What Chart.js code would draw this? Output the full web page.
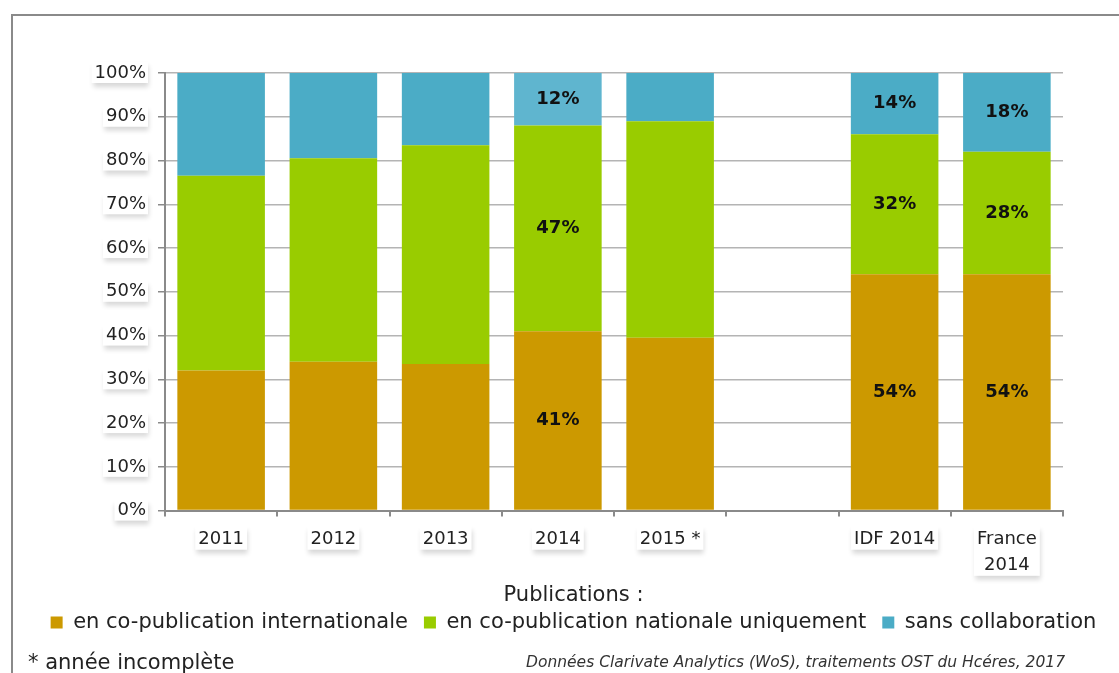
<!DOCTYPE html>
<html>
<head>
<meta charset="utf-8">
<script src="https://cdn.jsdelivr.net/npm/chart.js@4/dist/chart.umd.min.js"></script>
<style>
  html, body { margin: 0; padding: 0; background: #fff; }
  #wrap { position: relative; width: 1119px; height: 673px; overflow: hidden; }
  #frame { position: absolute; left: 11px; top: 14px; width: 1200px; height: 800px;
           border-left: 2px solid #8a8a8a; border-top: 2px solid #8a8a8a; }
  canvas { position: absolute; left: 0; top: 0; }
  .note { position: absolute; top: 650px; font-family: "DejaVu Sans", sans-serif; font-size: 21px; color: #222; }
  #note1 { left: 28px; }
  #note2 { right: 54px; font-style: italic; font-size: 15.5px; top: 653px; color: #333; }
</style>
</head>
<body>
<div id="wrap">
  <div id="frame"></div>
  <canvas id="chart" width="1119" height="673"></canvas>
  <div class="note" id="note1">* année incomplète</div>
  <div class="note" id="note2">Données Clarivate Analytics (WoS), traitements OST du Hcéres, 2017</div>
</div>
<script>
var categories = ["2011", "2012", "2013", "2014", "2015 *", "", "IDF 2014", ["France", "2014"]];
var international = [32, 34, 33.5, 41, 39.5, null, 54, 54];
var national = [44.5, 46.5, 50, 47, 49.5, null, 32, 28];
var sansCollab = [23.5, 19.5, 16.5, 12, 11, null, 14, 18];
var labelled = [3, 6, 7];
var yTicks = [0, 10, 20, 30, 40, 50, 60, 70, 80, 90, 100];

var FONT = "DejaVu Sans";
var TICK_SIZE = 18;

var sansColors = sansCollab.map(function (v, i) {
  return i === 3 ? "#5fb5cf" : "#4bacc6";
});

// percentages written inside the segments of a few bars
var segmentLabels = {
  id: "segmentLabels",
  afterDatasetsDraw: function (chart) {
    var ctx = chart.ctx;
    ctx.save();
    ctx.font = "bold 18px '" + FONT + "'";
    ctx.fillStyle = "#111";
    ctx.textAlign = "center";
    ctx.textBaseline = "middle";
    chart.data.datasets.forEach(function (ds, di) {
      var meta = chart.getDatasetMeta(di);
      labelled.forEach(function (i) {
        var bar = meta.data[i];
        if (!bar || ds.data[i] == null) return;
        var p = bar.getProps(["x", "y", "base"], true);
        ctx.fillText(Math.round(ds.data[i]) + "%", p.x, (p.y + p.base) / 2);
      });
    });
    ctx.restore();
  },
};

// white boxes with a soft shadow behind the tick labels
var labelShadows = {
  id: "labelShadows",
  beforeDraw: function (chart) {
    var ctx = chart.ctx;
    var xs = chart.scales.x;
    var ys = chart.scales.y;
    ctx.save();
    ctx.font = TICK_SIZE + "px '" + FONT + "'";
    ctx.fillStyle = "#fff";
    ctx.shadowColor = "rgba(0,0,0,0.16)";
    ctx.shadowBlur = 5;
    ctx.shadowOffsetX = 1;
    ctx.shadowOffsetY = 4;
    ys.ticks.forEach(function (t) {
      var txt = t.value + "%";
      var w = ctx.measureText(txt).width;
      var y = ys.getPixelForValue(t.value);
      ctx.fillRect(ys.right - 7 - 12 - w - 3, y - 11, w + 5, 21);
    });
    var lh = TICK_SIZE * 1.45;
    categories.forEach(function (c, i) {
      var lines = Array.isArray(c) ? c : [c];
      if (!lines[0]) return;
      var w = Math.max.apply(null, lines.map(function (s) { return ctx.measureText(s).width; }));
      var x = xs.getPixelForTick(i);
      var top = xs.top + 6 + 10 - 1;
      ctx.fillRect(x - w / 2 - 3, top, w + 6, lh * lines.length - 2);
    });
    ctx.restore();
  },
};

new Chart(document.getElementById("chart"), {
  type: "bar",
  data: {
    labels: categories,
    datasets: [
      { label: "en co-publication internationale", data: international, backgroundColor: "#cc9900" },
      { label: "en co-publication nationale uniquement", data: national, backgroundColor: "#99cc00" },
      { label: "sans collaboration", data: sansCollab, backgroundColor: sansColors },
    ],
  },
  options: {
    responsive: false,
    animation: false,
    layout: { padding: { left: 28, right: 0, top: 73, bottom: 30 } },
    datasets: { bar: { barPercentage: 0.78, categoryPercentage: 1 } },
    plugins: {
      tooltip: { enabled: false },
      legend: {
        position: "bottom",
        labels: {
          color: "#222",
          font: { family: FONT, size: 21 },
          boxWidth: 12,
          boxHeight: 12,
          padding: 16,
          generateLabels: function (chart) {
            return chart.data.datasets.map(function (ds, i) {
              return {
                text: ds.label,
                fillStyle: i === 2 ? "#4bacc6" : ds.backgroundColor,
                strokeStyle: "transparent",
                lineWidth: 0,
                datasetIndex: i,
              };
            });
          },
        },
        title: {
          display: true,
          text: "Publications :",
          color: "#222",
          font: { family: FONT, size: 21 },
          padding: { top: 0, bottom: -14 },
        },
      },
    },
    scales: {
      x: {
        stacked: true,
        afterFit: function (axis) { axis.height -= 4; },
        grid: { offset: true, drawOnChartArea: false, color: "#8a8a8a", lineWidth: 2, tickLength: 6 },
        border: { color: "#8a8a8a", width: 2 },
        ticks: { color: "#222", font: { family: FONT, size: TICK_SIZE, lineHeight: 1.45 }, padding: 10, maxRotation: 0 },
      },
      y: {
        stacked: true,
        min: 0,
        max: 100,
        afterBuildTicks: function (axis) {
          axis.ticks = yTicks.map(function (v) { return { value: v }; });
        },
        afterFit: function (axis) { axis.width = 137; },
        grid: { color: "#b4b4b4", lineWidth: 1.5, tickLength: 7, tickColor: "#8a8a8a" },
        border: { color: "#8a8a8a", width: 2 },
        ticks: {
          color: "#222",
          font: { family: FONT, size: TICK_SIZE },
          padding: 12,
          callback: function (v) { return v + "%"; },
        },
      },
      yRight: {
        position: "right",
        display: true,
        min: 0,
        max: 100,
        afterFit: function (axis) { axis.width = 56; },
        grid: { display: false },
        border: { display: false },
        ticks: { display: false },
      },
    },
  },
  plugins: [labelShadows, segmentLabels],
});
</script>
</body>
</html>
